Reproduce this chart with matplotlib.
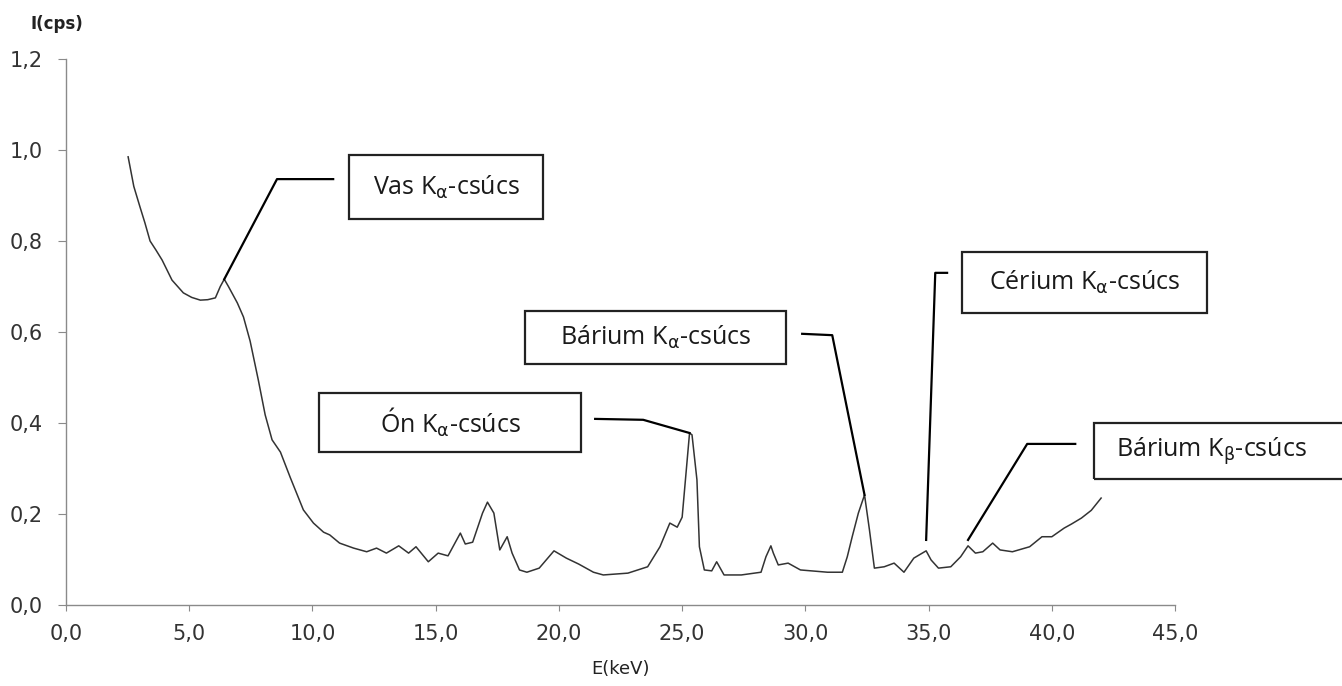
import matplotlib.pyplot as plt
from matplotlib.patches import Rectangle
from matplotlib.ticker import FuncFormatter

# spectrum: energy (keV) and intensity (cps)
energy = [2.52, 2.75, 3.0, 3.2, 3.41, 3.65, 3.9, 4.3, 4.76, 5.1, 5.45, 5.75, 6.06, 6.26,
          6.42, 6.59, 6.95, 7.2, 7.47, 7.8, 8.08, 8.36, 8.7, 9.1, 9.63, 10.04, 10.45,
          10.7, 11.1, 11.67, 12.2, 12.6, 13.0, 13.5, 13.9, 14.2, 14.7, 15.1, 15.5,
          16.0, 16.2, 16.5, 16.9, 17.1, 17.36, 17.6, 17.9, 18.1, 18.4, 18.7, 19.2,
          19.8, 20.3, 20.8, 21.4, 21.8, 22.8, 23.6, 24.1, 24.5, 24.8, 25.0, 25.3,
          25.4, 25.6, 25.7, 25.9, 26.2, 26.4, 26.7, 27.4, 28.2, 28.4, 28.6, 28.7,
          28.9, 29.3, 29.8, 30.9, 31.5, 31.7, 31.9, 32.15, 32.4, 32.6, 32.8, 33.2,
          33.6, 34.0, 34.4, 34.9, 35.1, 35.4, 35.9, 36.3, 36.6, 36.9, 37.2, 37.6,
          37.9, 38.4, 39.1, 39.6, 40.0, 40.5, 40.8, 41.2, 41.6, 42.0]
intensity = [0.985, 0.92, 0.875, 0.84, 0.80, 0.78, 0.758, 0.714, 0.686, 0.676, 0.670,
             0.671, 0.675, 0.70, 0.716, 0.70, 0.664, 0.633, 0.58, 0.495, 0.418, 0.363,
             0.336, 0.28, 0.209, 0.18, 0.16, 0.154, 0.136, 0.125, 0.117, 0.125, 0.114,
             0.13, 0.114, 0.128, 0.095, 0.114, 0.108, 0.158, 0.134, 0.138, 0.202,
             0.226, 0.202, 0.121, 0.15, 0.114, 0.077, 0.072, 0.081, 0.119, 0.103,
             0.09, 0.072, 0.066, 0.070, 0.084, 0.128, 0.18, 0.171, 0.193, 0.378,
             0.374, 0.275, 0.128, 0.077, 0.075, 0.095, 0.066, 0.066, 0.072, 0.106,
             0.13, 0.114, 0.088, 0.092, 0.077, 0.072, 0.072, 0.106, 0.15, 0.202,
             0.242, 0.165, 0.081, 0.084, 0.092, 0.072, 0.103, 0.119, 0.099, 0.081,
             0.084, 0.106, 0.13, 0.114, 0.117, 0.136, 0.121, 0.117, 0.128, 0.15,
             0.15, 0.169, 0.178, 0.191, 0.208, 0.235]

# peak labels: text, peak energy, leader lift, leader bend points, box (x0, x1, y0, y1), alignment
labels = [
    (r'Vas K$_{\mathrm{\alpha}}$-csúcs', 6.42, 0.0, [(8.56, 0.936), (10.84, 0.936)], (11.49, 19.36, 0.848, 0.989), 'center'),
    (r'Ón K$_{\mathrm{\alpha}}$-csúcs', 25.3, 0.0, [(23.42, 0.407), (21.47, 0.409)], (10.27, 20.90, 0.336, 0.466), 'center'),
    (r'Bárium K$_{\mathrm{\alpha}}$-csúcs', 32.4, 0.0, [(31.09, 0.593), (29.87, 0.596)], (18.63, 29.22, 0.530, 0.646), 'center'),
    (r'Cérium K$_{\mathrm{\alpha}}$-csúcs', 34.9, 0.024, [(35.27, 0.730), (35.75, 0.730)], (36.36, 46.31, 0.642, 0.776), 'center'),
    (r'Bárium K$_{\mathrm{\beta}}$-csúcs', 36.6, 0.013, [(39.0, 0.354), (40.95, 0.354)], (41.72, 51.9, 0.277, 0.400), 'left'),
]


def comma(v, pos):
    return '{:.1f}'.format(v).replace('.', ',')


fig = plt.figure(figsize=(13.42, 6.86), dpi=100)
ax = fig.add_axes([0.0492, 0.1181, 0.8264, 0.7959])

ax.plot(energy, intensity, color='#333333', linewidth=1.1)

for text, e_peak, lift, bends, box, align in labels:
    i_peak = intensity[energy.index(e_peak)] + lift
    xs = [e_peak] + [b[0] for b in bends]
    ys = [i_peak] + [b[1] for b in bends]
    ax.plot(xs, ys, color='black', linewidth=1.6, clip_on=False)
    x0, x1, y0, y1 = box
    ax.add_patch(Rectangle((x0, y0), x1 - x0, y1 - y0, fill=False, edgecolor='#222222',
                           linewidth=1.6, clip_on=False))
    tx = (x0 + x1) / 2 if align == 'center' else x0 + 0.9
    ax.text(tx, (y0 + y1) / 2, text, ha=align, va='center', fontsize=18,
            family='Open Sans', color='#1a1a1a', clip_on=False)

ax.set_xlim(0, 45)
ax.set_ylim(0, 1.2)
ax.set_xticks(range(0, 46, 5))
ax.set_yticks([0, 0.2, 0.4, 0.6, 0.8, 1.0, 1.2])
ax.xaxis.set_major_formatter(FuncFormatter(comma))
ax.yaxis.set_major_formatter(FuncFormatter(comma))

for side in ['top', 'right']:
    ax.spines[side].set_visible(False)
for side in ['left', 'bottom']:
    ax.spines[side].set_color('#8a8a8a')
    ax.spines[side].set_linewidth(1.0)
    ax.spines[side].set_linestyle((0, (2, 1)))

ax.tick_params(axis='y', direction='out', length=6, width=0.8, color='#8a8a8a',
               labelsize=15, labelcolor='#333333', pad=11)
ax.tick_params(axis='x', direction='out', length=4, width=0.8, color='#8a8a8a',
               labelsize=15, labelcolor='#333333', pad=10)

ax.set_xlabel('E(keV)', fontsize=13, color='#222222', labelpad=11)
fig.text(0.0425, 0.965, 'I(cps)', fontsize=12, fontweight='bold', color='#222222',
         ha='center', va='center')

fig.savefig('out.png', dpi=100)
